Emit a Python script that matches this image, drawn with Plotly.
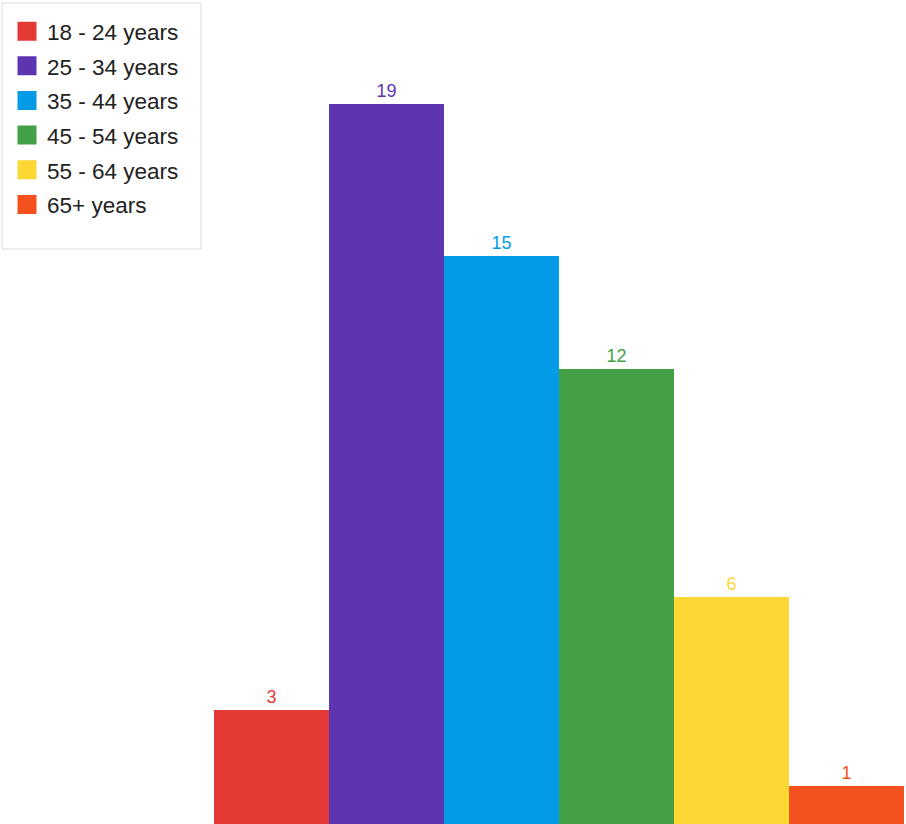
import plotly.graph_objects as go

# Respondents by age bracket
age_groups = ["18 - 24 years", "25 - 34 years", "35 - 44 years",
              "45 - 54 years", "55 - 64 years", "65+ years"]
counts = [3, 19, 15, 12, 6, 1]
colors = ["#E53935", "#5E35B1", "#039BE5", "#43A047", "#FDD835", "#F4511E"]

W, H = 906, 824
left, right, top, bottom = 214, 2, 0, 0
plot_w = W - left - right
plot_h = H - top - bottom
# 19 respondents reach 720 px above the baseline
y_max = 19 * plot_h / 720

fig = go.Figure()
for i, (name, n, c) in enumerate(zip(age_groups, counts, colors)):
    fig.add_trace(go.Bar(
        x=[i], y=[n], name=name, width=1,
        marker=dict(color=c, line=dict(width=0)),
        text=[str(n)], textposition="outside",
        textfont=dict(color=c, size=18, family="Liberation Sans"),
        cliponaxis=False, legendgroup=name, showlegend=False,
    ))
    # square swatch for the legend
    fig.add_trace(go.Scatter(
        x=[None], y=[None], mode="markers", name=name, legendgroup=name,
        marker=dict(symbol="square", size=16, color=c,
                    line=dict(color=c, width=3)),
    ))

# legend frame (pixel box converted to paper coordinates)
box_px = dict(x0=2, x1=201, y0=3, y1=249)
fig.add_shape(
    type="rect", xref="paper", yref="paper", layer="below",
    x0=(box_px["x0"] - left) / plot_w, x1=(box_px["x1"] - left) / plot_w,
    y0=1 - (box_px["y1"] - top) / plot_h, y1=1 - (box_px["y0"] - top) / plot_h,
    line=dict(color="#dcdcdc", width=1), fillcolor="white",
)

fig.update_layout(
    width=W, height=H,
    margin=dict(l=left, r=right, t=top, b=bottom, pad=0),
    paper_bgcolor="white", plot_bgcolor="white",
    xaxis=dict(range=[-0.5, 5.5], visible=False, fixedrange=True),
    yaxis=dict(range=[0, y_max], visible=False, fixedrange=True),
    bargap=0,
    legend=dict(
        xref="container", yref="container",
        x=7 / W, y=1 - 10 / H, xanchor="left", yanchor="top",
        bgcolor="rgba(0,0,0,0)", borderwidth=0,
        font=dict(family="Liberation Sans", size=22.5, color="#222222"),
        itemsizing="trace", tracegroupgap=2.4,
    ),
    showlegend=True,
)

fig.write_html("out.html")
